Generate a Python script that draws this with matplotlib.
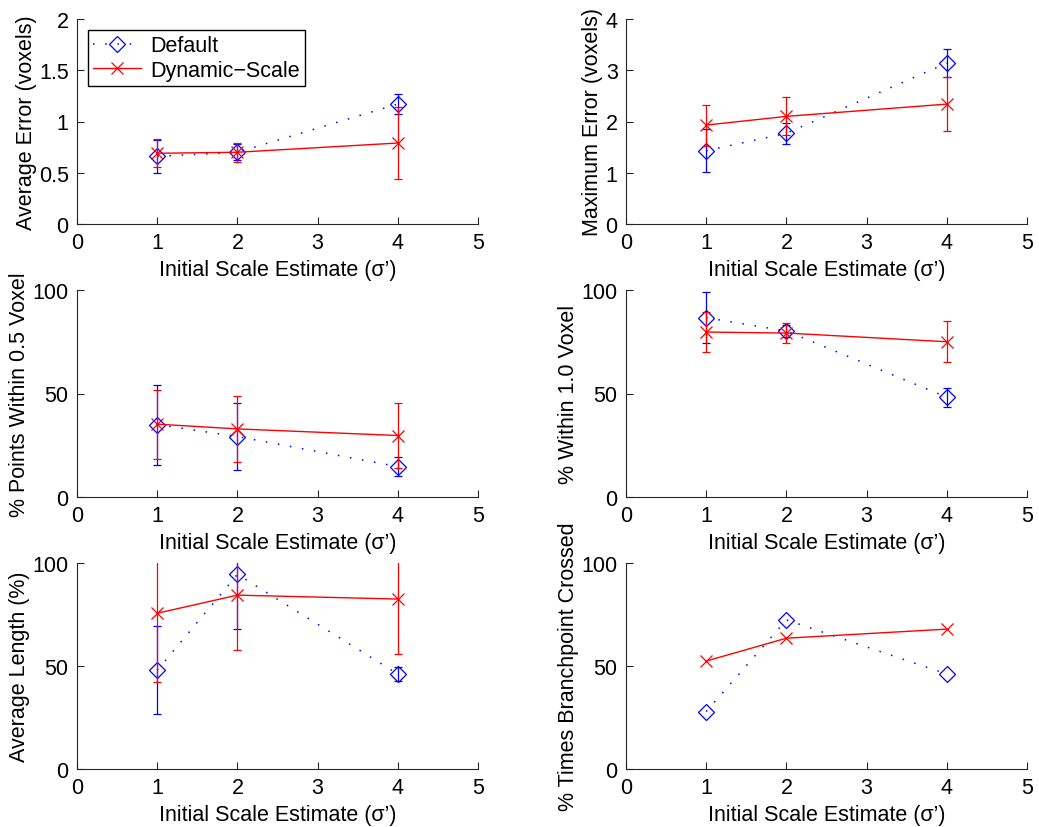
import numpy as np
import matplotlib
matplotlib.use("Agg")
import matplotlib.pyplot as plt

plt.rcParams['font.family'] = ['Liberation Sans', 'DejaVu Sans']

scales = [1, 2, 4]
x_label = 'Initial Scale Estimate (σ’)'
series_names = ['Default', 'Dynamic\u2212Scale']

# average error (voxels)
avg_err_def = [0.66, 0.70, 1.17]
avg_err_def_sd = [0.16, 0.08, 0.10]
avg_err_dyn = [0.69, 0.70, 0.79]
avg_err_dyn_sd = [0.135, 0.095, 0.35]

# maximum error (voxels)
max_err_def = [1.43, 1.77, 3.14]
max_err_def_sd = [0.42, 0.21, 0.27]
max_err_dyn = [1.93, 2.10, 2.34]
max_err_dyn_sd = [0.40, 0.37, 0.52]

# % points within 0.5 voxel
w05_def = [35.0, 29.2, 14.7]
w05_def_sd = [19.3, 16.0, 4.5]
w05_dyn = [35.2, 32.9, 29.7]
w05_dyn_sd = [16.7, 15.8, 15.7]

# % within 1.0 voxel
w10_def = [86.6, 80.2, 48.2]
w10_def_sd = [12.3, 2.8, 4.6]
w10_dyn = [79.7, 79.2, 75.0]
w10_dyn_sd = [9.5, 5.0, 10.0]

# average length (%)
len_def = [47.9, 94.5, 46.1]
len_def_sd = [21.3, 26.3, 3.6]
len_dyn = [75.6, 84.4, 82.5]
len_dyn_sd = [33.2, 26.6, 26.8]

# % times branchpoint crossed (no error bars)
bp_def = [27.9, 72.4, 46.1]
bp_dyn = [52.4, 63.5, 67.9]

panels = [
    ('Average Error (voxels)', avg_err_def, avg_err_def_sd, avg_err_dyn, avg_err_dyn_sd, 2, [0, 0.5, 1, 1.5, 2]),
    ('Maximum Error (voxels)', max_err_def, max_err_def_sd, max_err_dyn, max_err_dyn_sd, 4, [0, 1, 2, 3, 4]),
    ('% Points Within 0.5 Voxel', w05_def, w05_def_sd, w05_dyn, w05_dyn_sd, 100, [0, 50, 100]),
    ('% Within 1.0 Voxel', w10_def, w10_def_sd, w10_dyn, w10_dyn_sd, 100, [0, 50, 100]),
    ('Average Length (%)', len_def, len_def_sd, len_dyn, len_dyn_sd, 100, [0, 50, 100]),
    ('% Times Branchpoint Crossed', bp_def, None, bp_dyn, None, 100, [0, 50, 100]),
]

W, H = 1039, 828
fig = plt.figure(figsize=(W / 100, H / 100), dpi=100)

lefts = [77, 626]
tops = [20, 291, 564]
bottoms = [225, 498, 770]
aw = 401

blue = (0, 0, 1)
red = (1, 0, 0)
dot = (0, (1, 7))

for i, (ylab, d, dsd, y, ysd, ymax, yt) in enumerate(panels):
    r, c = divmod(i, 2)
    ax = fig.add_axes([lefts[c] / W, (H - bottoms[r]) / H, aw / W, (bottoms[r] - tops[r]) / H])
    if dsd is not None:
        ax.errorbar(scales, d, yerr=dsd, fmt='none', ecolor=blue, elinewidth=0.9, capsize=3, capthick=0.9)
    ax.plot(scales, d, color=blue, linestyle=dot, linewidth=1.1, marker='D', markersize=8,
            markerfacecolor='none', markeredgecolor=blue, markeredgewidth=0.9, label=series_names[0])
    if ysd is not None:
        ax.errorbar(scales, y, yerr=ysd, fmt='none', ecolor=red, elinewidth=0.9, capsize=3, capthick=0.9)
    ax.plot(scales, y, color=red, linestyle='-', linewidth=1.0, marker='x', markersize=8,
            markeredgewidth=0.9, label=series_names[1])

    ax.set_xlim(0, 5)
    ax.set_ylim(0, ymax)
    ax.set_xticks([0, 1, 2, 3, 4, 5])
    ax.set_yticks(yt)
    ax.set_yticklabels([('%g' % v) for v in yt])
    ax.spines['top'].set_visible(False)
    ax.spines['right'].set_visible(False)
    for s in ['left', 'bottom']:
        ax.spines[s].set_color('#262626')
        ax.spines[s].set_linewidth(0.8)
    ax.tick_params(direction='in', length=5, width=0.8, labelsize=15.5, colors='#262626',
                   labelcolor='black', pad=6)
    ax.set_xlabel(x_label, fontsize=15.5, labelpad=4)
    ax.set_ylabel(ylab, fontsize=15.5, labelpad=1.5)

    if i == 0:
        leg = ax.legend(loc='upper left', bbox_to_anchor=(0.027, 0.946), borderaxespad=0,
                        fontsize=15.5, fancybox=False, framealpha=1, edgecolor='black',
                        handlelength=2.2, borderpad=0.25, labelspacing=0.15, handletextpad=0.45)
        leg.get_frame().set_linewidth(1.0)

fig.savefig('out.png', dpi=100)
